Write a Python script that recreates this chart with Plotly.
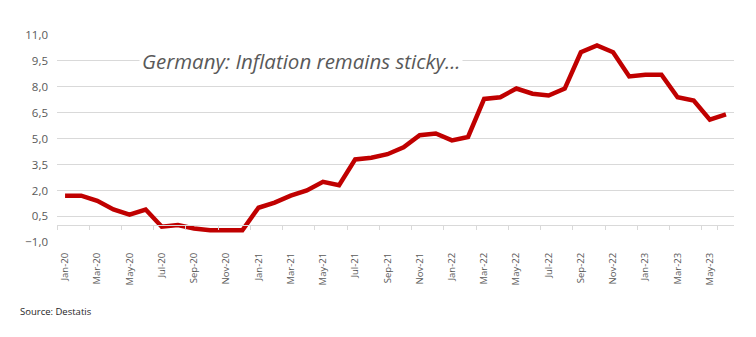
import plotly.graph_objects as go

# Monthly German consumer price inflation, % y/y
months = [
    "Jan-20", "Feb-20", "Mar-20", "Apr-20", "May-20", "Jun-20",
    "Jul-20", "Aug-20", "Sep-20", "Oct-20", "Nov-20", "Dec-20",
    "Jan-21", "Feb-21", "Mar-21", "Apr-21", "May-21", "Jun-21",
    "Jul-21", "Aug-21", "Sep-21", "Oct-21", "Nov-21", "Dec-21",
    "Jan-22", "Feb-22", "Mar-22", "Apr-22", "May-22", "Jun-22",
    "Jul-22", "Aug-22", "Sep-22", "Oct-22", "Nov-22", "Dec-22",
    "Jan-23", "Feb-23", "Mar-23", "Apr-23", "May-23", "Jun-23",
]
inflation = [
    1.7, 1.7, 1.4, 0.9, 0.6, 0.9,
    -0.1, 0.0, -0.2, -0.3, -0.3, -0.3,
    1.0, 1.3, 1.7, 2.0, 2.5, 2.3,
    3.8, 3.9, 4.1, 4.5, 5.2, 5.3,
    4.9, 5.1, 7.3, 7.4, 7.9, 7.6,
    7.5, 7.9, 10.0, 10.4, 10.0, 8.6,
    8.7, 8.7, 7.4, 7.2, 6.1, 6.4,
]
month_ticks = months[::2]
y_ticks = [-1.0, 0.5, 2.0, 3.5, 5.0, 6.5, 8.0, 9.5, 11.0]

GRID = "#d9d9d9"
TEXT = "#595959"
FONT = "Open Sans"

fig = go.Figure()
# transparent copy on the bottom axis so that plotly renders its month labels
fig.add_trace(go.Scatter(
    x=months, y=inflation, mode="lines", xaxis="x", yaxis="y",
    line=dict(color="rgba(0,0,0,0)", width=0),
    hoverinfo="skip", showlegend=False,
))
# the series sits on the zero-crossing category axis (x2)
fig.add_trace(go.Scatter(
    x=months, y=inflation, mode="lines", xaxis="x2", yaxis="y",
    line=dict(color="#c00000", width=4.5),
    hoverinfo="x+y", showlegend=False,
))

# a hair of padding below the lowest tick keeps its gridline inside the plot
y_lo, y_hi = y_ticks[0] - 0.04, y_ticks[-1]

fig.update_layout(
    width=756, height=337,
    margin=dict(l=57, r=22, t=35, b=94),
    paper_bgcolor="white", plot_bgcolor="white",
    separators=",.",
    font=dict(family=FONT, color=TEXT),
    # month labels along the bottom
    xaxis=dict(
        type="category", categoryorder="array", categoryarray=months,
        range=[-0.5, len(months) - 0.5],
        tickmode="array", tickvals=month_ticks, ticktext=month_ticks,
        tickangle=-90, tickfont=dict(size=9.5, color=TEXT, family=FONT),
        showgrid=False, showline=False, zeroline=False, ticks="",
        ticklabelstandoff=7,
    ),
    # category axis line crossing at zero, with boundary tick marks
    xaxis2=dict(
        type="category", categoryorder="array", categoryarray=months,
        range=[-0.5, len(months) - 0.5], overlaying="x", anchor="free",
        position=(0 - y_lo) / (y_hi - y_lo),
        tickmode="array", tickvals=month_ticks,
        tickson="boundaries", ticks="outside", ticklen=4, tickcolor=GRID,
        showticklabels=False, showline=True, linecolor=GRID, linewidth=1,
        showgrid=False, zeroline=False,
    ),
    yaxis=dict(
        range=[y_lo, y_hi], tickmode="array", tickvals=y_ticks,
        tickformat=".1f", tickfont=dict(size=11.5, color=TEXT, family=FONT),
        showgrid=True, gridcolor=GRID, gridwidth=1,
        zeroline=False, showline=False, ticks="",
        ticklabelstandoff=8,
    ),
    annotations=[
        dict(
            text="<i>Germany: Inflation remains sticky...</i>",
            xref="paper", yref="y", x=0.3604, y=9.5,
            xanchor="center", yanchor="middle", showarrow=False,
            font=dict(size=20.5, color=TEXT, family=FONT),
            bgcolor="white", borderpad=2,
        ),
        dict(
            text="Source: Destatis",
            xref="paper", yref="paper", x=-57 / 677 + 18 / 677, y=0,
            yshift=-68, xanchor="left", yanchor="middle", showarrow=False,
            font=dict(size=9.5, color="#262626", family=FONT),
        ),
    ],
)

fig.write_html("out.html")
